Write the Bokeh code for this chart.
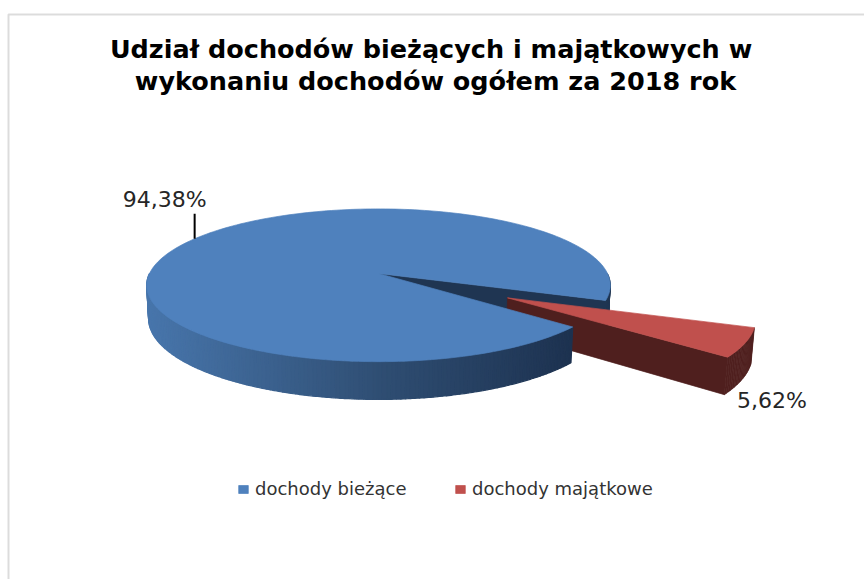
import numpy as np
from bokeh.plotting import figure
from bokeh.models import Range1d, Label, Legend, LegendItem, BoxAnnotation, ColumnDataSource
from bokeh.core.properties import value
from bokeh.embed import file_html
from bokeh.resources import INLINE

# ---------------- data ----------------
title_lines = ["Udział dochodów  bieżących i majątkowych w",
               "wykonaniu dochodów ogółem za 2018 rok"]
categories = ["dochody bieżące", "dochody majątkowe"]
shares = [94.38, 5.62]
share_labels = ["94,38%", "5,62%"]
top_colors = ["#4F81BD", "#C0504D"]
side_colors = ["#1F3552", "#4F1F1E"]
explode = [0.0, 0.62]

# ---------------- 3D pie projection ----------------
CX, CY, S = 378.0, 273.0, 229.0
PHI = np.radians(19.0)
DIST = 6.13
H = 0.152
START = -20.0  # degrees, first slice start, counter-clockwise


def proj(X, Y, Z):
    X = np.asarray(X, float)
    Y = np.asarray(Y, float)
    Z = np.asarray(Z, float) + 0 * X
    d = Y * np.cos(PHI) + Z * np.sin(PHI)
    sc = DIST / (DIST - d)
    v = Z * np.cos(PHI) - Y * np.sin(PHI)
    return CX + S * X * sc, CY - S * v * sc


def lerp_color(stops, t):
    t = min(max(t, 0.0), 1.0)
    for (t0, c0), (t1, c1) in zip(stops[:-1], stops[1:]):
        if t <= t1:
            f = (t - t0) / (t1 - t0) if t1 > t0 else 0
            rgb = [int(round(a + (b - a) * f)) for a, b in zip(c0, c1)]
            return "#%02x%02x%02x" % tuple(rgb)
    return "#%02x%02x%02x" % tuple(stops[-1][1])


grad_stops = [(0.0, (72, 118, 172)), (0.55, (47, 78, 115)), (1.0, (29, 50, 80))]

total = float(sum(shares))
spans = [360.0 * s / total for s in shares]
starts = [START + sum(spans[:i]) for i in range(len(spans))]

slices = []
for i in range(len(shares)):
    t1 = starts[i]
    t2 = t1 + spans[i]
    mid = np.radians((t1 + t2) / 2)
    ox, oy = explode[i] * np.cos(mid), -explode[i] * np.sin(mid)
    slices.append(dict(t1=t1, t2=t2, mid=mid, ox=ox, oy=oy))


def rim(sl, th_deg, z):
    th = np.radians(np.asarray(th_deg, float))
    return proj(sl["ox"] + np.cos(th), sl["oy"] - np.sin(th), z)


def top_face(sl):
    th = np.linspace(sl["t1"], sl["t2"], 240)
    x, y = rim(sl, th, 0.0)
    cx, cy = proj(sl["ox"], sl["oy"], 0.0)
    return [float(cx)] + list(x), [float(cy)] + list(y)


def cut_face(sl, th):
    xt, yt = rim(sl, th, 0.0)
    xb, yb = rim(sl, th, -H)
    cxt, cyt = proj(sl["ox"], sl["oy"], 0.0)
    cxb, cyb = proj(sl["ox"], sl["oy"], -H)
    return [float(cxt), float(xt), float(xb), float(cxb)], [float(cyt), float(yt), float(yb), float(cyb)]


def wall_strips(sl, step=1.0):
    n = max(int(np.ceil((sl["t2"] - sl["t1"]) / step)), 1)
    th = np.linspace(sl["t1"], sl["t2"], n + 1)
    out = []
    for a, b in zip(th[:-1], th[1:]):
        m = np.radians((a + b) / 2)
        if np.sin(m) >= 0:
            continue
        seg = np.linspace(a, b, 3)
        xt, yt = rim(sl, seg, 0.0)
        xb, yb = rim(sl, seg, -H)
        xs = list(xt) + list(xb[::-1])
        ys = list(yt) + list(yb[::-1])
        out.append(((a + b) / 2, xs, ys))
    return out


blue, red = slices[0], slices[1]

back_x, back_y, back_c = [], [], []
front_x, front_y, front_c = [], [], []

# blue visible cut face at its start edge
if np.cos(np.radians(blue["t1"])) > 0:
    fx, fy = cut_face(blue, blue["t1"])
    back_x.append(fx); back_y.append(fy); back_c.append(side_colors[0])

blue_walls = wall_strips(blue)
front_walls = [w for w in blue_walls if w[0] >= 90]
back_walls = [w for w in blue_walls if w[0] < 90]
for _, xs, ys in back_walls:
    back_x.append(xs); back_y.append(ys); back_c.append(side_colors[0])

allx = [v for _, xs, _ in front_walls for v in xs]
xmin, xmax = min(allx), max(allx)
for _, xs, ys in front_walls:
    t = (np.mean(xs) - xmin) / (xmax - xmin)
    front_x.append(xs); front_y.append(ys); front_c.append(lerp_color(grad_stops, t))

red_x, red_y, red_c = [], [], []
for _, xs, ys in wall_strips(red):
    red_x.append(xs); red_y.append(ys); red_c.append(side_colors[1])
if np.cos(np.radians(red["t1"])) > 0:
    fx, fy = cut_face(red, red["t1"])
    red_x.append(fx); red_y.append(fy); red_c.append(side_colors[1])
if np.cos(np.radians(red["t2"])) < 0:
    fx, fy = cut_face(red, red["t2"])
    red_x.append(fx); red_y.append(fy); red_c.append(side_colors[1])

# ---------------- figure ----------------
W, HGT = 864, 579
p = figure(width=W, height=HGT, x_range=Range1d(0, W), y_range=Range1d(HGT, 0),
           x_axis_type=None, y_axis_type=None, toolbar_location=None,
           output_backend="svg", min_border=0)
p.outline_line_color = None
p.grid.visible = False
p.background_fill_color = "white"
p.border_fill_color = "white"

# chart frame
p.add_layout(BoxAnnotation(left=8, right=2000, top=14, bottom=2000, fill_alpha=0,
                           line_color="#8a8a8a", line_width=2))


def draw(xs, ys, cs, lw=0.7):
    src = ColumnDataSource(dict(xs=xs, ys=ys, c=cs))
    return p.patches("xs", "ys", source=src, fill_color="c", line_color="c", line_width=lw)


draw(back_x, back_y, back_c)
draw(red_x, red_y, red_c)
rx, ry = top_face(red)
red_top = draw([rx], [ry], [top_colors[1]])
draw(front_x, front_y, front_c, lw=1.3)
bx, by = top_face(blue)
blue_top = draw([bx], [by], [top_colors[0]])
tops = [blue_top, red_top]

# data labels
bmx, bmy = rim(blue, np.degrees(blue["mid"]), 0.0)
bmx, bmy = float(bmx), float(bmy)
p.segment(x0=[bmx], y0=[bmy], x1=[bmx], y1=[bmy - 25], line_color="black", line_width=2)
p.text(x=[bmx + 12], y=[bmy - 39], text=[share_labels[0]], text_font=value("DejaVu Sans"),
       text_font_size="22px", text_align="right", text_baseline="alphabetic", text_color="#262626")

rmx, rmy = rim(red, np.degrees(red["mid"]), -H)
rmx, rmy = float(rmx), float(rmy)
p.text(x=[rmx - 5], y=[rmy + 21], text=[share_labels[1]], text_font=value("DejaVu Sans"),
       text_font_size="22px", text_align="left", text_baseline="alphabetic", text_color="#262626")

# title
for line, yb in zip(title_lines, [48, 80]):
    p.add_layout(Label(x=435, y=yb, text=line, text_align="center", text_baseline="alphabetic",
                       text_font="DejaVu Sans", text_font_style="bold", text_font_size="25.5px",
                       text_color="black"))

# legends
for i, loc in enumerate([(237, 80), (454, 80)]):
    lg = Legend(items=[LegendItem(label=categories[i], renderers=[tops[i]])], location=loc,
                orientation="horizontal", border_line_color=None, background_fill_alpha=0,
                padding=0, margin=0, glyph_width=12, glyph_height=10, label_standoff=6,
                label_text_font="DejaVu Sans", label_text_font_size="18px",
                label_text_color="#333333", label_height=20)
    p.add_layout(lg, "center")

open("out.html", "w").write(file_html(p, INLINE))
